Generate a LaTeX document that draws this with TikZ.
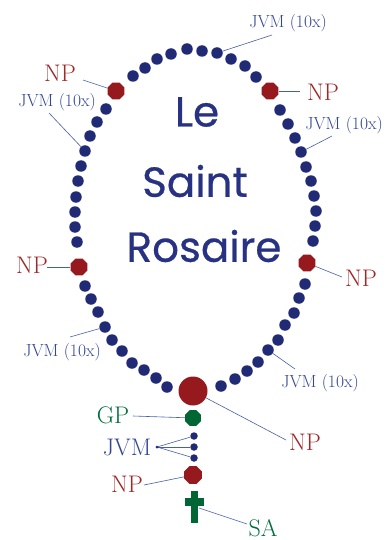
\documentclass[tikz,border=0pt]{standalone}
\usepackage{fontspec}
\newfontfamily\titlefont{Poppins}[FakeBold=0.6]
\usetikzlibrary{shapes.geometric}
\definecolor{beadblue}{RGB}{33,43,117}
\definecolor{npred}{RGB}{150,25,30}
\definecolor{gpgreen}{RGB}{0,102,51}
\definecolor{lblblue}{RGB}{50,70,150}
\definecolor{lblred}{RGB}{160,40,40}
\definecolor{lblgreen}{RGB}{0,110,60}
\definecolor{linecol}{RGB}{70,95,170}
\definecolor{titlecol}{RGB}{40,50,130}
\tikzset{
  bead/.style={circle,fill=beadblue,inner sep=0pt,minimum size=11.5pt},
  smallbead/.style={circle,fill=beadblue,inner sep=0pt,minimum size=7.5pt},
  npbead/.style={regular polygon,regular polygon sides=8,fill=npred,inner sep=0pt,minimum size=18pt},
  gpbead/.style={regular polygon,regular polygon sides=8,fill=gpgreen,inner sep=0pt,minimum size=18pt},
  bignp/.style={circle,fill=npred,inner sep=0pt,minimum size=29pt},
  conn/.style={draw=linecol,line width=0.6pt},
  jvmlbl/.style={text=lblblue,inner sep=0pt,font=\fontsize{17.5}{20}\selectfont},
  biglbl/.style={inner sep=0pt,font=\fontsize{24}{26}\selectfont},
  titletxt/.style={text=titlecol,inner sep=0pt,font=\titlefont\fontsize{42}{46}\selectfont}
}
\begin{document}
\begin{tikzpicture}[x=1pt,y=-1pt]
\useasboundingbox (0,0) rectangle (388,540);
\fill[white] (0,0) rectangle (388,540);
% title
\node[titletxt] (le) at (197,112) {Le};
\node[titletxt] (saint) at (195,181) {Saint};
\node[titletxt] (rosaire) at (204,246) {Rosaire};
% loop beads
\foreach \x/\y [count=\i] in {133/76,145/68,157/59,171/54,187/49,202/51,217/53,231/59,245/66,256/77,
  280/110,288/124,295/138,301/152,306/167,311/181,314/196,316/211,315/226,313/241,
  305/284,299/298,294/313,285/325,278/340,268/350,258/362,247/371,235/379,221/386,
  167/387,156/378,144/370,132/363,122/351,112/340,105/327,98/312,91/299,85/286,
  77/242,75/227,75/212,76/197,78/181,81/166,85/151,90/136,97/122,106/109}
  \node[bead] (b\i) at (\x,\y) {};
% NP beads on loop
\node[npbead] (nptl) at (116,91) {};
\node[npbead] (nptr) at (270,91) {};
\node[npbead] (npr) at (307,263) {};
\node[npbead] (npl) at (79,267) {};
\node[bignp] (npbig) at (193,391) {};
% pendant
\node[gpbead,minimum size=17pt] (gp) at (193,418) {};
\node[smallbead] (j1) at (194,436) {};
\node[smallbead] (j2) at (194,447) {};
\node[smallbead] (j3) at (194,458) {};
\node[npbead,minimum size=19pt] (nplow) at (193,475) {};
\fill[gpgreen] (191,491) rectangle (198,523);
\fill[gpgreen] (185,498) rectangle (204,506);
\coordinate (cross) at (199,508);
% labels
\node[jvmlbl] (lt) at (288,23) {JVM (10x)};
\node[biglbl,text=lblred] (ltl) at (60,73) {NP};
\node[jvmlbl] (ll) at (57,102) {JVM (10x)};
\node[biglbl,text=lblred] (ltr) at (323,92) {NP};
\node[jvmlbl] (lr) at (344,125) {JVM (10x)};
\node[biglbl,text=lblred] (lnl) at (32,265) {NP};
\node[biglbl,text=lblred] (lnr) at (361,278) {NP};
\node[jvmlbl] (lll) at (62,352) {JVM (10x)};
\node[jvmlbl] (llr) at (320,383) {JVM (10x)};
\node[biglbl,text=lblred] (lbig) at (305,442) {NP};
\node[biglbl,text=lblgreen] (lgp) at (113,415) {GP};
\node[biglbl,text=lblblue] (ljvm) at (127,447) {JVM};
\node[biglbl,text=lblred] (lnplow) at (127,484) {NP};
\node[biglbl,text=lblgreen] (lsa) at (263,528) {SA};
% connector end points
\coordinate (e1) at (272,35);
\coordinate (e2) at (83,80);
\coordinate (e3) at (49,113);
\coordinate (e4) at (300,91);
\coordinate (e5) at (332,136);
\coordinate (e6) at (47,267);
\coordinate (e7) at (342,277);
\coordinate (e8) at (70,337);
\coordinate (e9) at (295,369);
\coordinate (e10) at (286,440);
\coordinate (e11) at (133,416);
\coordinate (e12) at (157,447);
\coordinate (e13) at (144,485);
\coordinate (e14) at (247,524);
% connectors
\draw[conn] (b7) -- (e1);
\draw[conn] (nptl) -- (e2);
\draw[conn] (b47) -- (e3);
\draw[conn] (nptr) -- (e4);
\draw[conn] (b14) -- (e5);
\draw[conn] (npl) -- (e6);
\draw[conn] (npr) -- (e7);
\draw[conn] (b37) -- (e8);
\draw[conn] (b26) -- (e9);
\draw[conn] (npbig) -- (e10);
\draw[conn] (gp) -- (e11);
\draw[conn] (j1) -- (e12);
\draw[conn] (j2) -- (e12);
\draw[conn] (j3) -- (e12);
\fill[beadblue] (e12) circle (1.5pt);
\draw[conn] (nplow) -- (e13);
\draw[conn] (cross) -- (e14);
\end{tikzpicture}
\end{document}
